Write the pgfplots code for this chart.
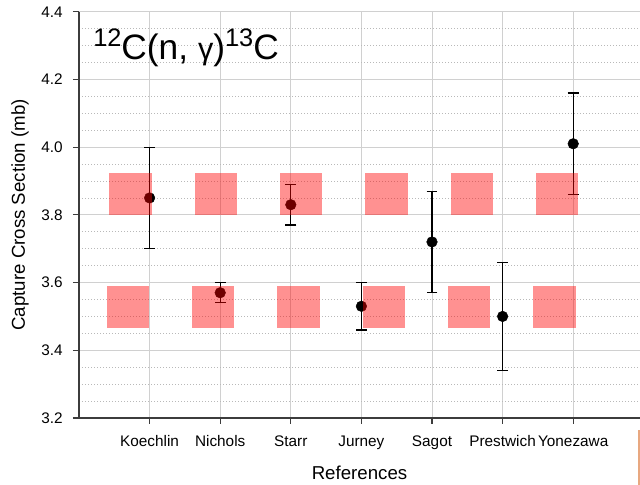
\documentclass[border=0pt]{standalone}
\usepackage{pgfplots}
\pgfplotsset{compat=1.18}
\usepackage{fontspec}
\setmainfont{Liberation Sans}

\definecolor{gridmajor}{RGB}{208,208,208}
\definecolor{gridminor}{RGB}{185,185,185}
\definecolor{axisgray}{RGB}{60,60,60}
\definecolor{bandred}{RGB}{255,0,0}
\definecolor{edgesalmon}{RGB}{232,168,128}

\pgfplotsset{
  band/.style={fill=bandred, fill opacity=0.43, draw=none, forget plot, mark=none,
    on layer=axis foreground},
}

\begin{document}
\begin{tikzpicture}
\begin{axis}[
  set layers,
  at={(0,0)}, anchor=south west,
  scale only axis, width=420.75pt, height=304.7pt,
  xmin=0, xmax=7.946, ymin=3.2, ymax=4.4,
  axis x line*=bottom, axis y line*=left,
  axis line style={axisgray, line width=0.9pt},
  xtick={1,2,3,4,5,6,7},
  xticklabels={Koechlin,Nichols,Starr,Jurney,Sagot,Prestwich,Yonezawa},
  ytick={3.2,3.4,3.6,3.8,4.0,4.2,4.4},
  minor y tick num=3,
  tick align=outside, major tick length=4.5pt, minor tick length=0pt,
  tick style={axisgray, line width=0.9pt},
  xmajorgrids, ymajorgrids, yminorgrids,
  major grid style={gridmajor, line width=0.75pt},
  minor grid style={gridminor, line width=0.6pt, dash pattern=on 0.75pt off 1.5pt},
  /pgf/number format/assume math mode=true,
  yticklabel style={/pgf/number format/.cd, fixed, fixed zerofill, precision=1, /tikz/.cd,
    anchor=east, inner sep=0pt, xshift=-7.5pt, font=\fontsize{11.5}{12}\selectfont},
  xticklabel style={anchor=base, inner sep=0pt, yshift=-17pt, font=\fontsize{11.5}{12}\selectfont},
  every axis x label/.style={at={(axis description cs:0.5,-0.1513)}, anchor=base,
    font=\fontsize{14}{16}\selectfont},
  every axis y label/.style={at={(axis description cs:-0.0963,0.5)}, rotate=90, anchor=base,
    font=\fontsize{14}{16}\selectfont},
  xlabel={References},
  ylabel={Capture Cross Section (mb)},
  clip=false,
]

% measured cross sections with their uncertainties
\addplot[only marks, mark=*, mark size=4pt, black,
  mark options={fill=black, draw=black, line width=0.3pt},
  error bars/.cd, y dir=both, y explicit,
  error bar style={line width=0.9pt, black},
  error mark options={rotate=90, mark size=4.1pt, line width=0.9pt, black}]
coordinates {
  (1,3.85) +- (0,0.15)
  (2,3.57) +- (0,0.03)
  (3,3.83) +- (0,0.06)
  (4,3.53) +- (0,0.07)
  (5,3.72) +- (0,0.15)
  (6,3.50) +- (0,0.16)
  (7,4.01) +- (0,0.15)
};

% upper evaluated band (3.800 -- 3.925 mb)
\addplot[band] coordinates {(0.4300,3.800) (1.0300,3.800) (1.0300,3.925) (0.4300,3.925)};
\addplot[band] coordinates {(1.6385,3.800) (2.2385,3.800) (2.2385,3.925) (1.6385,3.925)};
\addplot[band] coordinates {(2.8470,3.800) (3.4470,3.800) (3.4470,3.925) (2.8470,3.925)};
\addplot[band] coordinates {(4.0555,3.800) (4.6555,3.800) (4.6555,3.925) (4.0555,3.925)};
\addplot[band] coordinates {(5.2640,3.800) (5.8640,3.800) (5.8640,3.925) (5.2640,3.925)};
\addplot[band] coordinates {(6.4725,3.800) (7.0725,3.800) (7.0725,3.925) (6.4725,3.925)};

% lower evaluated band (3.465 -- 3.590 mb)
\addplot[band] coordinates {(0.3930,3.465) (0.9930,3.465) (0.9930,3.590) (0.3930,3.590)};
\addplot[band] coordinates {(1.6015,3.465) (2.2015,3.465) (2.2015,3.590) (1.6015,3.590)};
\addplot[band] coordinates {(2.8100,3.465) (3.4100,3.465) (3.4100,3.590) (2.8100,3.590)};
\addplot[band] coordinates {(4.0185,3.465) (4.6185,3.465) (4.6185,3.590) (4.0185,3.590)};
\addplot[band] coordinates {(5.2270,3.465) (5.8270,3.465) (5.8270,3.590) (5.2270,3.590)};
\addplot[band] coordinates {(6.4355,3.465) (7.0355,3.465) (7.0355,3.590) (6.4355,3.590)};

% reaction label
\node[anchor=base west, inner sep=0pt, font=\fontsize{26.5}{30}\selectfont]
  at (axis description cs:0.025,0.8812)
  {{\fontsize{19}{20}\selectfont\raisebox{10pt}{12}}C(n, {\fontsize{23}{24}\selectfont γ}){\fontsize{19}{20}\selectfont\raisebox{10pt}{13}}C};

% edge of the neighbouring frame
\draw[edgesalmon, line width=0.8pt]
  ([xshift=-0.75pt, yshift=-9pt]axis description cs:1,0) -- ([xshift=-0.75pt, yshift=-52pt]axis description cs:1,0);
\end{axis}
\pgfresetboundingbox
\useasboundingbox (-59.25pt,-50.25pt) rectangle (420.75pt,313.5pt);
\end{tikzpicture}
\end{document}
